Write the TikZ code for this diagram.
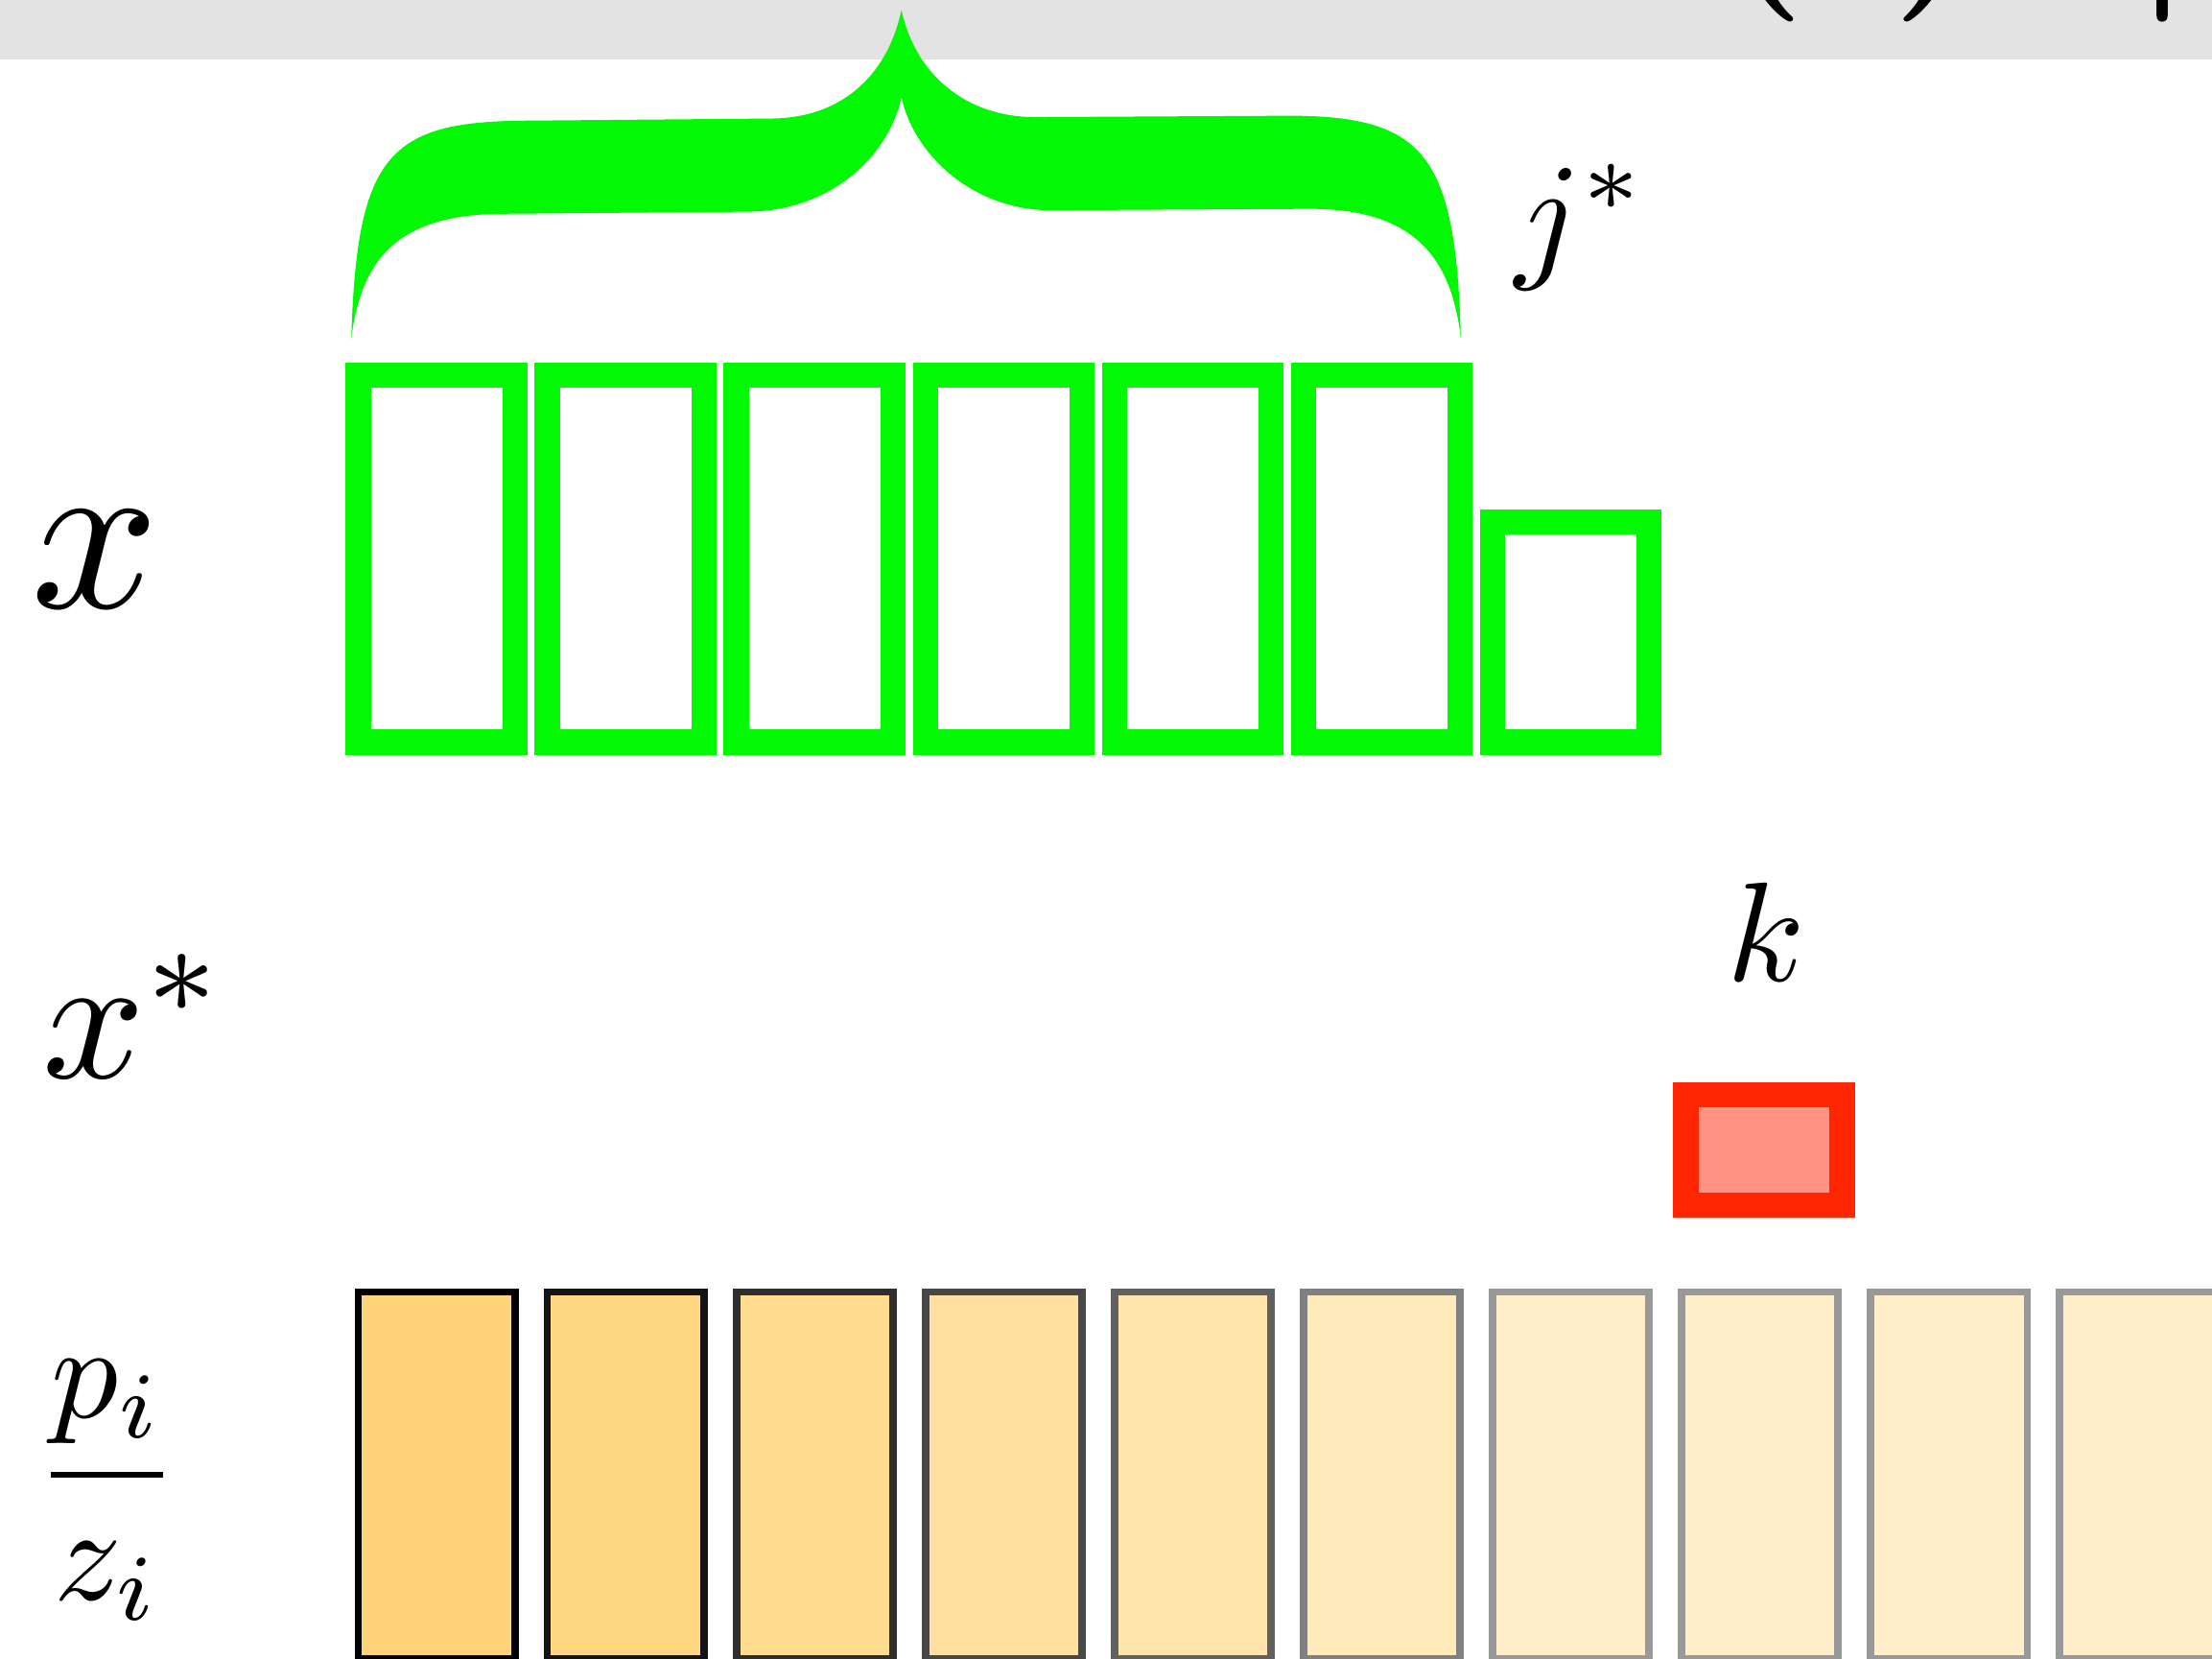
\documentclass[tikz,border=0pt]{standalone}
\usepackage{amsmath, amssymb}
\usepackage{xcolor}
\usepackage{tikz}

\definecolor{brightgreen}{RGB}{3,248,3}
\definecolor{boxred}{RGB}{255,37,0}
\definecolor{boxpink}{RGB}{255,145,128}
\definecolor{boxyellow}{RGB}{255,212,120}
\definecolor{bandgray}{RGB}{227,227,227}

\tikzset{
    gbox/.style={draw=brightgreen, line width=0.18cm, minimum width=1.11cm, minimum height=2.6cm, inner sep=0pt},
    ybox/.style={draw=black!#1, fill=boxyellow!#1!white, line width=0.052cm, minimum width=1.11cm, minimum height=2.6cm, inner sep=0pt},
    rbox/.style={draw=boxred, fill=boxpink, line width=0.18cm, minimum width=1.11cm, minimum height=0.78cm, inner sep=0pt},
    lbl/.style={inner sep=0pt, anchor=base west}
}

\begin{document}
\begin{tikzpicture}
    \useasboundingbox (0,0) rectangle (15.68,-11.75);
    \clip (0,0) rectangle (15.68,-11.75);

    % Dải xám phía trên
    \fill[bandgray] (0,0) rectangle (15.68,-0.42);
    \node[lbl, scale=3.76, font=\boldmath] (title) at (12.18,0.17) {$(\mkern-1.5mu x\mkern-1.5mu)\hspace{0.84em}|$};

    % Ngoặc nhọn màu xanh
    \fill[brightgreen] (2.49,-2.40) .. controls (2.53,-1.1) and (2.75,-0.86) .. (3.73,-0.855)
        -- (5.48,-0.84) .. controls (6.0,-0.83) and (6.3,-0.5) .. (6.39,-0.07)
        .. controls (6.48,-0.5) and (6.82,-0.83) .. (7.34,-0.83)
        -- (9.17,-0.82) .. controls (10.10,-0.83) and (10.32,-1.1) .. (10.355,-2.395)
        .. controls (10.29,-1.85) and (10.05,-1.48) .. (9.285,-1.48)
        -- (7.45,-1.49) .. controls (6.9,-1.49) and (6.48,-1.1) .. (6.39,-0.69)
        .. controls (6.3,-1.1) and (5.9,-1.49) .. (5.31,-1.50)
        -- (3.56,-1.515) .. controls (2.8,-1.52) and (2.56,-1.85) .. (2.49,-2.40) -- cycle;
    \node[lbl, scale=2.87] (jstar) at (10.72,-1.86) {$j^*$};

    % Hàng x
    \node[lbl, scale=4.52] (xlab) at (0.19,-4.31) {$x$};
    \node[gbox] (x1) at (3.095,-3.96) {};
    \node[gbox] (x2) at (4.435,-3.96) {};
    \node[gbox] (x3) at (5.775,-3.96) {};
    \node[gbox] (x4) at (7.115,-3.96) {};
    \node[gbox] (x5) at (8.455,-3.96) {};
    \node[gbox] (x6) at (9.795,-3.96) {};
    \node[gbox, minimum height=1.56cm] (x7) at (11.135,-4.48) {};

    % Hàng x^*
    \node[lbl, scale=3.62] (xslab) at (0.28,-7.64) {$x^*$};
    \node[lbl, scale=2.85] (klab) at (12.22,-6.95) {$k$};
    \node[rbox] (xk) at (12.505,-8.15) {};

    % Hàng p_i / z_i
    \node[inner sep=0pt, anchor=base, scale=2.7] (ratio) at (0.76,-10.69) {$\dfrac{p_i}{z_i}$};
    \node[ybox=100] (r1) at (3.095,-10.456) {};
    \node[ybox=92] (r2) at (4.435,-10.456) {};
    \node[ybox=82] (r3) at (5.775,-10.456) {};
    \node[ybox=72] (r4) at (7.115,-10.456) {};
    \node[ybox=62] (r5) at (8.455,-10.456) {};
    \node[ybox=50] (r6) at (9.795,-10.456) {};
    \node[ybox=40] (r7) at (11.135,-10.456) {};
    \node[ybox=40] (r8) at (12.475,-10.456) {};
    \node[ybox=40] (r9) at (13.815,-10.456) {};
    \node[ybox=40] (r10) at (15.155,-10.456) {};
\end{tikzpicture}
\end{document}
